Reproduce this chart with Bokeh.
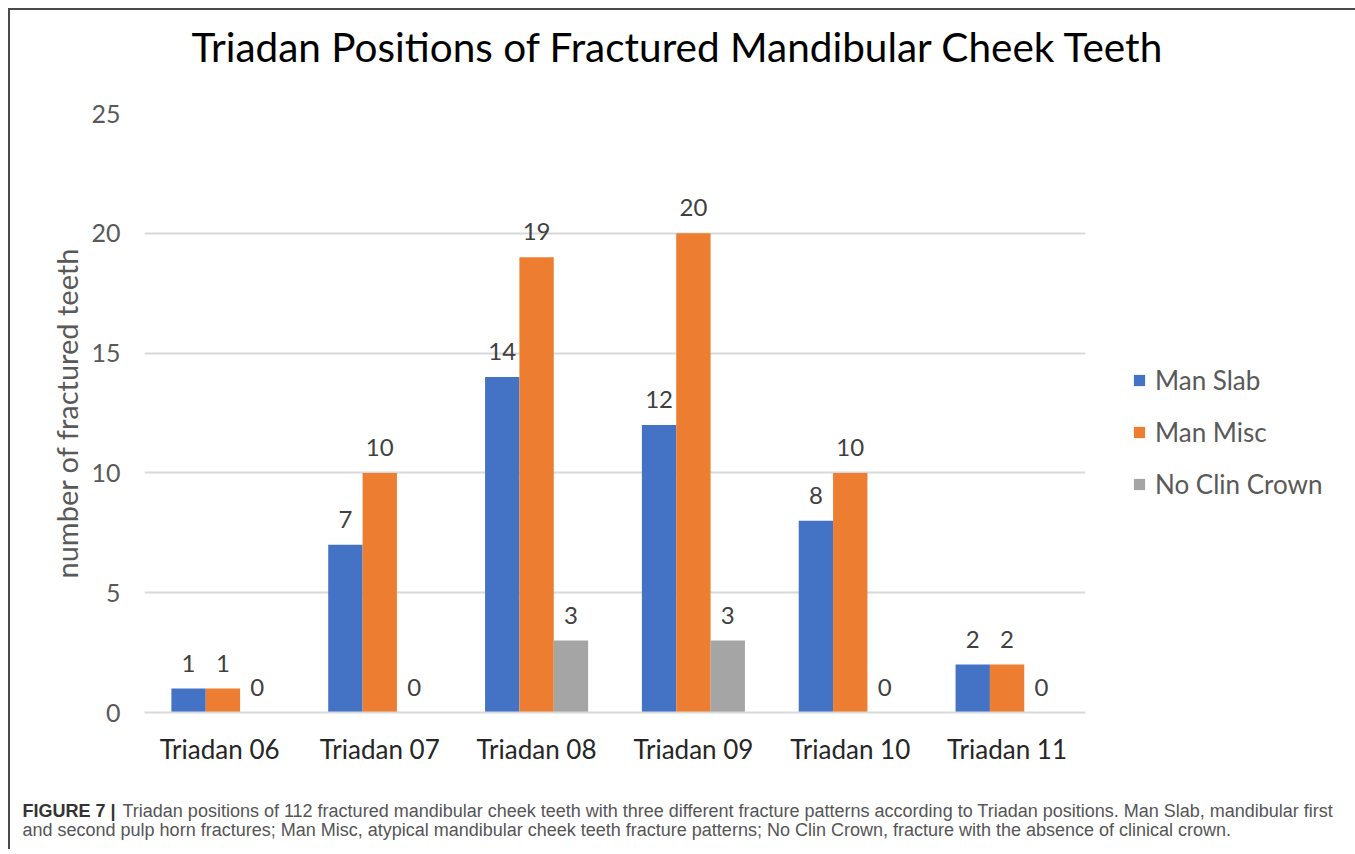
from bokeh.plotting import figure
from bokeh.models import (FactorRange, ColumnDataSource, Legend, LegendItem, FixedTicker, Range1d, Title)
from bokeh.transform import dodge
from bokeh.core.properties import value
from bokeh.embed import file_html
from bokeh.resources import INLINE

categories = ["Triadan  06", "Triadan 07", "Triadan 08", "Triadan 09", "Triadan 10", "Triadan 11"]
series_names = ["Man Slab", "Man Misc", "No Clin Crown"]
man_slab = [1, 7, 14, 12, 8, 2]
man_misc = [1, 10, 19, 20, 10, 2]
no_clin_crown = [0, 0, 3, 3, 0, 0]
y_ticks = [0, 5, 10, 15, 20, 25]
colors = ["#4472C4", "#ED7D31", "#A5A5A5"]

title_text = "Triadan Positions of Fractured Mandibular Cheek Teeth"
y_label = "number of fractured teeth"
caption_bold = "FIGURE 7 |"
caption_line1 = ("Triadan positions of 112 fractured mandibular cheek teeth with three different "
                 "fracture patterns according to Triadan positions. Man Slab, mandibular first")
caption_line2 = ("and second pulp horn fractures; Man Misc, atypical mandibular cheek teeth fracture "
                 "patterns; No Clin Crown, fracture with the absence of clinical crown.")

FONT = "Lato"
CAP_FONT = "Liberation Sans"
W = 1345
BORDER = "2px solid #4a4a4a"

src = ColumnDataSource(dict(cat=categories, slab=man_slab, misc=man_misc, noclin=no_clin_crown,
                            slab_t=[str(v) for v in man_slab],
                            misc_t=[str(v) for v in man_misc],
                            noclin_t=[str(v) for v in no_clin_crown]))

p = figure(x_range=FactorRange(*categories, range_padding=0), y_range=(0, 25),
           frame_width=941, frame_height=599, output_backend="svg", toolbar_location=None,
           min_border_left=134, min_border_right=270, min_border_top=103, min_border_bottom=73)
p.outline_line_color = None
p.background_fill_color = "white"
p.border_fill_color = "white"

# spacer (closest to the frame) then the chart title above it
p.add_layout(Title(text=" ", text_font_size="32px", standoff=0), "above")
p.add_layout(Title(text=title_text, text_font=FONT, text_font_size="40.5px",
                   text_font_style="normal", text_color="#000000", align="left", offset=47),
             "above")

bw = 0.219
keys = ["slab", "misc", "noclin"]
offs = [-bw, 0, bw]
renderers = []
for k, o, c in zip(keys, offs, colors):
    r = p.vbar(x=dodge("cat", o, range=p.x_range), top=k, width=bw, source=src,
               fill_color=c, line_color=None)
    renderers.append(r)
    p.text(x=dodge("cat", o, range=p.x_range), y=k, text=k + "_t", source=src,
           text_align="center", text_baseline="bottom", y_offset=-17,
           text_font=value(FONT), text_font_size="24px", text_color="#404040")

# axes
p.yaxis.ticker = FixedTicker(ticks=y_ticks)
p.yaxis.axis_line_color = None
p.yaxis.major_tick_line_color = None
p.yaxis.minor_tick_line_color = None
p.yaxis.major_label_text_font = FONT
p.yaxis.major_label_text_font_size = "25px"
p.yaxis.major_label_text_color = "#595959"
p.yaxis.major_label_standoff = 18
p.yaxis.axis_label = y_label
p.yaxis.axis_label_text_font = FONT
p.yaxis.axis_label_text_font_size = "29px"
p.yaxis.axis_label_text_font_style = "normal"
p.yaxis.axis_label_text_color = "#595959"
p.yaxis.axis_label_standoff = 4

p.xaxis.axis_line_color = "#D9D9D9"
p.xaxis.axis_line_width = 2
p.xaxis.major_tick_line_color = None
p.xaxis.minor_tick_line_color = None
p.xaxis.major_label_text_font = FONT
p.xaxis.major_label_text_font_size = "26px"
p.xaxis.major_label_text_color = "#262626"
p.xaxis.major_label_standoff = 14

p.xgrid.grid_line_color = None
p.ygrid.grid_line_color = "#D9D9D9"
p.ygrid.grid_line_width = 2

legend = Legend(items=[LegendItem(label=n, renderers=[r]) for n, r in zip(series_names, renderers)],
                location=(47, 212), label_text_font=FONT, label_text_font_size="26px",
                label_text_color="#595959", glyph_width=14, glyph_height=14,
                spacing=20, border_line_color=None, background_fill_alpha=0,
                margin=0, padding=10, label_standoff=9)
p.add_layout(legend, "right")
p.styles = {"margin-left": "8px", "margin-top": "8px", "border-top": BORDER, "border-left": BORDER}

# caption as its own small figure (separate root, stacked below)
cap = figure(width=W, height=64, x_range=Range1d(0, W), y_range=Range1d(0, 64),
             output_backend="svg", toolbar_location=None, min_border=0,
             x_axis_location=None, y_axis_location=None)
cap.grid.visible = False
cap.outline_line_color = None
CS = "18px"
cap.text(x=[12], y=[39], text=[caption_bold], text_font=value(CAP_FONT), text_font_size=CS,
         text_font_style="bold", text_color="#333333", text_baseline="alphabetic")
cap.text(x=[112], y=[39], text=[caption_line1], text_font=value(CAP_FONT), text_font_size=CS,
         text_color="#555555", text_baseline="alphabetic")
cap.text(x=[12], y=[20], text=[caption_line2], text_font=value(CAP_FONT), text_font_size=CS,
         text_color="#555555", text_baseline="alphabetic")
cap.styles = {"margin-left": "8px", "border-left": BORDER}

open("out.html", "w").write(file_html([p, cap], INLINE))
